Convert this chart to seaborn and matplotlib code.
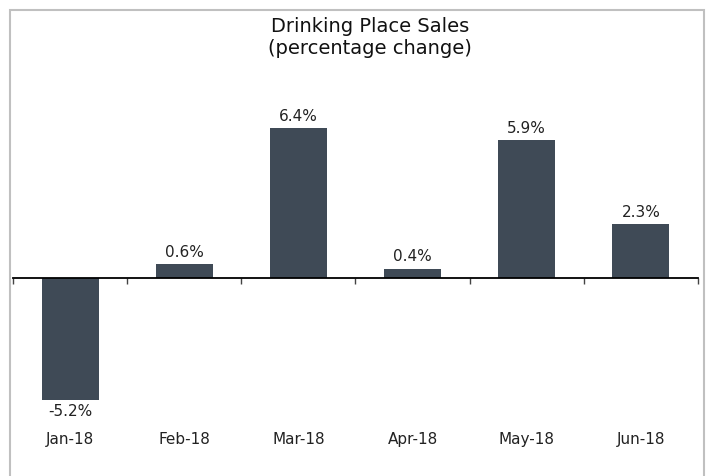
import seaborn as sns
import matplotlib.pyplot as plt
from matplotlib.patches import Rectangle

# Dati del grafico
months = ['Jan-18', 'Feb-18', 'Mar-18', 'Apr-18', 'May-18', 'Jun-18']
change = [-5.2, 0.6, 6.4, 0.4, 5.9, 2.3]
bar_color = '#3F4A56'

sns.set_style('white')
plt.rcParams['font.family'] = ['DejaVu Sans']

fig = plt.figure(figsize=(7.1, 4.76), dpi=100)
ax = fig.add_axes([13 / 710, 48 / 476, 685 / 710, 338 / 476])

sns.barplot(x=months, y=change, color=bar_color, saturation=1, width=0.5,
            linewidth=0, ax=ax)

ax.set_xlim(-0.5, len(months) - 0.5)
ax.set_ylim(-6.4, 8.02)

# Etichette dei valori
ax.bar_label(ax.containers[0], labels=[f'{v:.1f}%' for v in change],
             padding=3, fontsize=11, color='#222222')

# Asse dello zero con tacche tra le categorie
for side in ['top', 'right', 'left']:
    ax.spines[side].set_visible(False)
ax.spines['bottom'].set_position(('data', 0))
ax.spines['bottom'].set_color('black')
ax.spines['bottom'].set_linewidth(1.3)
ax.set_yticks([])
ax.set_xticks([i - 0.5 for i in range(len(months) + 1)])
ax.set_xticklabels([])
ax.tick_params(axis='x', direction='out', length=4, width=1, color='#444444', bottom=True)

# Etichette delle categorie in basso
sec = ax.secondary_xaxis(0)
sec.set_xticks(range(len(months)))
sec.set_xticklabels(months, fontsize=11, color='#222222')
sec.tick_params(length=0, pad=3)
sec.spines['bottom'].set_visible(False)

# Titolo
fig.text(370 / 710, 1 - 26 / 476, 'Drinking Place Sales', ha='center', va='center',
         fontsize=14, color='#111111')
fig.text(370 / 710, 1 - 48 / 476, '(percentage change)', ha='center', va='center',
         fontsize=14, color='#111111')

# Bordo della figura
fig.patches.append(Rectangle((9.5 / 710, -0.02), 694.5 / 710, 1 - 9.5 / 476 + 0.02,
                             transform=fig.transFigure, fill=False,
                             edgecolor='#C0C0C0', linewidth=1.5))

fig.savefig('out.png', dpi=100)
